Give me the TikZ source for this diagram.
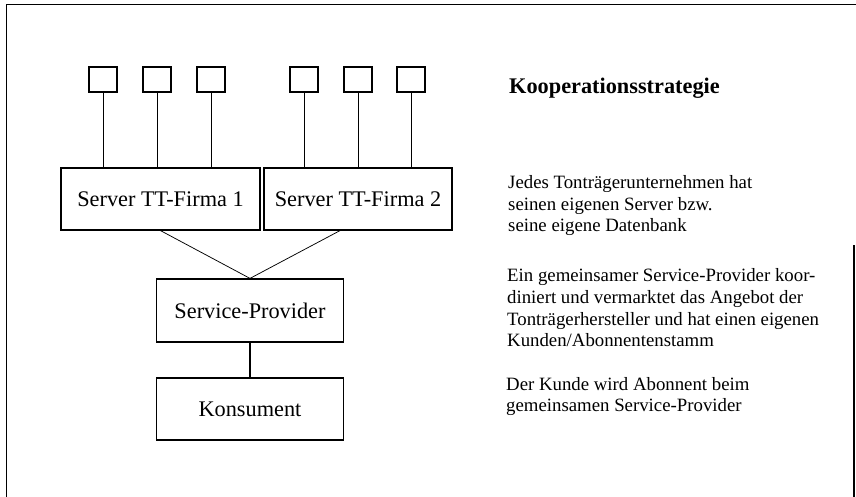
\documentclass[tikz,border=0pt]{standalone}
\usepackage{fontspec}
\setmainfont{Liberation Serif}
\begin{document}
\begin{tikzpicture}[x=1pt,y=-1pt,
  frame/.style={line width=1.2pt},
  leaf/.style={draw,line width=1.2pt,minimum width=28pt,minimum height=25pt,inner sep=0pt},
  bigbox/.style={draw,line width=1.2pt,minimum height=62pt,inner sep=0pt,font=\fontsize{22.3}{26}\selectfont},
  link/.style={line width=0.75pt},
  para/.style={anchor=base west,align=left,inner sep=0pt,font=\fontsize{18.8}{21.6}\selectfont}]
\useasboundingbox (0,0) rectangle (856,497);
% outer frame
\draw[frame] (6.5,497) -- (6.5,4.5) -- (856,4.5);
\draw[frame] (854,245) -- (854,497);
% leaf squares
\node[leaf] (a1) at (103,79.5) {};
\node[leaf] (a2) at (157,79.5) {};
\node[leaf] (a3) at (211,79.5) {};
\node[leaf] (b1) at (304,79.5) {};
\node[leaf] (b2) at (358,79.5) {};
\node[leaf] (b3) at (411,79.5) {};
% servers
\node[bigbox,minimum width=199pt] (srv1) at (160.5,199) {Server TT-Firma 1};
\node[bigbox,minimum width=188pt] (srv2) at (358,199) {Server TT-Firma 2};
\node[bigbox,minimum width=187pt,minimum height=63pt] (sp) at (250,310.5) {Service-Provider};
\node[bigbox,minimum width=187pt] (ko) at (250,409) {Konsument};
% connectors
\foreach \n in {a1,a2,a3} \draw[link] (\n.south) -- (\n.south |- srv1.north);
\foreach \n in {b1,b2,b3} \draw[link] (\n.south) -- (\n.south |- srv2.north);
\draw[link] (srv1.south) -- (sp.north);
\draw[link] ([xshift=-18pt]srv2.south) -- (sp.north);
\draw[line width=1.1pt] (sp.south) -- (ko.north);
% texts
\node[anchor=base west,inner sep=0pt,font=\fontsize{22.3}{26}\selectfont\bfseries] (title) at (509,93.3) {Kooperationsstrategie};
\node[para] (p1) at (508,231.7) {Jedes Tonträgerunternehmen hat\\seinen eigenen Server bzw.\\seine eigene Datenbank};
\node[para] (p2) at (507,346.7) {Ein gemeinsamer Service-Provider koor-\\diniert und vermarktet das Angebot der\\Tonträgerhersteller und hat einen eigenen\\Kunden/Abonnentenstamm};
\node[para] (p3) at (506,411.7) {Der Kunde wird Abonnent beim\\gemeinsamen Service-Provider};
\end{tikzpicture}
\end{document}
